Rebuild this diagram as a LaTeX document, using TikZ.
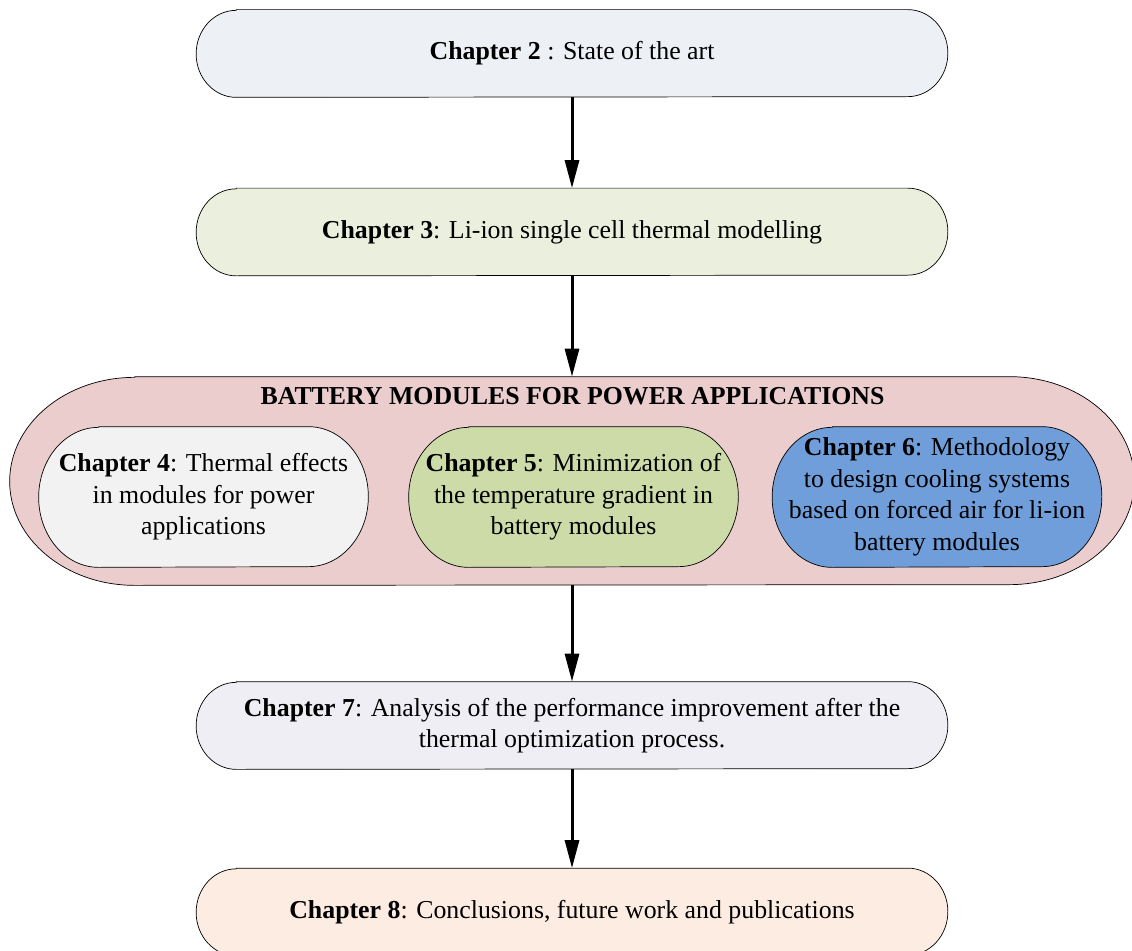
\documentclass[tikz,border=0pt]{standalone}
\usepackage{fontspec}
\setmainfont{Liberation Serif}
\usetikzlibrary{arrows.meta,backgrounds}

\definecolor{chtwo}{RGB}{237,240,245}
\definecolor{chthree}{RGB}{235,240,222}
\definecolor{modpink}{RGB}{235,205,205}
\definecolor{chfour}{RGB}{242,242,242}
\definecolor{chfive}{RGB}{205,219,168}
\definecolor{chsix}{RGB}{111,158,218}
\definecolor{chseven}{RGB}{239,238,244}
\definecolor{cheight}{RGB}{253,236,225}

% terminator outline round a node: node, x radius, y radius, fill
\newcommand\termframe[4]{%
  \path[draw,thin,fill=#4] ([xshift=#2]#1.north west) -- ([xshift=-#2]#1.north east)
    arc[start angle=90,end angle=-90,x radius=#2,y radius=#3]
    -- ([xshift=#2]#1.south west)
    arc[start angle=270,end angle=90,x radius=#2,y radius=#3] -- cycle;}

\begin{document}
\begin{tikzpicture}[
  font=\fontsize{14.7pt}{17.9pt}\selectfont,
  chapbox/.style={minimum width=15.02cm,minimum height=1.74cm,align=center,inner sep=0pt},
  inbox/.style={minimum width=6.58cm,minimum height=2.8cm,align=center,inner sep=0pt},
  arr/.style={line width=1.7pt,-{Triangle[length=0.56cm,width=0.28cm]}}]
\clip (0,0) rectangle (22.64,-19);
\useasboundingbox (0,0) rectangle (22.64,-19);

\node[chapbox] (ch2) at (11.44,-1.07) {\textbf{Chapter 2} : State of the art};
\node[chapbox] (ch3) at (11.44,-4.64) {\textbf{Chapter 3}: Li-ion single cell thermal modelling};

% battery modules block
\node[minimum width=22.48cm,minimum height=4.16cm] (modules) at (11.44,-9.62) {};
\node[font=\fontsize{14.7pt}{17.9pt}\selectfont\bfseries] (modtitle) at (11.45,-7.92) {BATTERY MODULES FOR POWER APPLICATIONS};
\node[inbox] (ch4) at (4.07,-9.94) {\textbf{Chapter 4}: Thermal effects\\in modules for power\\applications};
\node[inbox] (ch5) at (11.47,-9.94) {\textbf{Chapter 5}: Minimization of\\the temperature gradient in\\battery modules};
\node[inbox] (ch6) at (18.74,-9.94) {\textbf{Chapter 6}: Methodology\\to design cooling systems\\based on forced air for li-ion\\battery modules};

\node[chapbox] (ch7) at (11.44,-14.51) {\textbf{Chapter 7}: Analysis of the performance improvement after the\\thermal optimization process.};
\node[chapbox] (ch8) at (11.44,-18.24) {\textbf{Chapter 8}: Conclusions, future work and publications};

\begin{scope}[on background layer]
\fill[white] (0,0) rectangle (22.64,-19);
\termframe{ch2}{0.8cm}{0.87cm}{chtwo}
\termframe{ch3}{0.8cm}{0.87cm}{chthree}
\termframe{modules}{2.5cm}{2.08cm}{modpink}
\termframe{ch4}{1.2cm}{1.4cm}{chfour}
\termframe{ch5}{1.2cm}{1.4cm}{chfive}
\termframe{ch6}{1.2cm}{1.4cm}{chsix}
\termframe{ch7}{0.8cm}{0.87cm}{chseven}
\termframe{ch8}{0.8cm}{0.87cm}{cheight}
\end{scope}

\draw[arr] (ch2) -- (ch3);
\draw[arr] (ch3) -- (modules);
\draw[arr] (modules) -- (ch7);
\draw[arr] (ch7) -- (ch8);
\end{tikzpicture}
\end{document}
